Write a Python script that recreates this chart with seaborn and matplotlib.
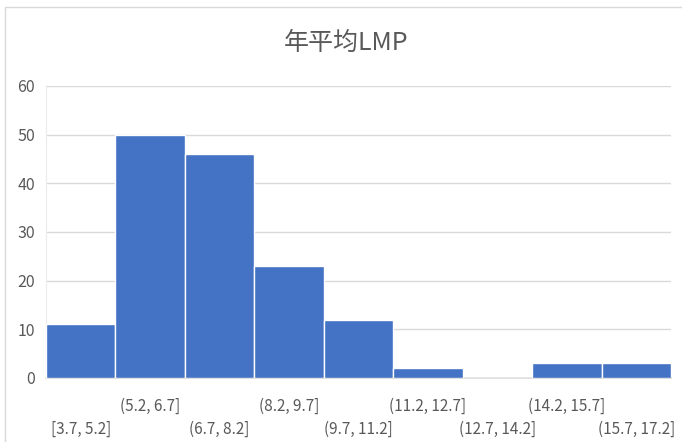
import matplotlib
matplotlib.use("Agg")
import matplotlib.pyplot as plt
import matplotlib.patches as mpatches
import seaborn as sns
import pandas as pd

# Histogram bins of the yearly average LMP and their counts
bin_labels = ["[3.7, 5.2]", "(5.2, 6.7]", "(6.7, 8.2]", "(8.2, 9.7]", "(9.7, 11.2]",
              "(11.2, 12.7]", "(12.7, 14.2]", "(14.2, 15.7]", "(15.7, 17.2]"]
counts = [11, 50, 46, 23, 12, 2, 0, 3, 3]
y_ticks = [0, 10, 20, 30, 40, 50, 60]
title = "年平均LMP"

sns.set_theme(style="white")
plt.rcParams["font.family"] = ["Noto Sans CJK SC", "DejaVu Sans"]

text_color = "#595959"
grid_color = "#d9d9d9"
bar_color = "#4472C4"
label_font = ["Liberation Sans Narrow", "Noto Sans CJK SC", "DejaVu Sans"]

df = pd.DataFrame({"bin": bin_labels, "count": counts})

fig = plt.figure(figsize=(6.82, 4.42), dpi=100)
ax = fig.add_axes([46 / 682, 1 - 378 / 442, (671 - 46) / 682, (378 - 86) / 442])

sns.barplot(data=df, x="bin", y="count", color=bar_color, saturation=1,
            width=1.0, edgecolor="white", linewidth=1.0, ax=ax, zorder=3)

ax.set_xlim(-0.5, len(bin_labels) - 0.5)
ax.set_ylim(0, 60)
ax.set_yticks(y_ticks)
ax.yaxis.grid(True, color=grid_color, linewidth=1.0, zorder=0)
ax.xaxis.grid(False)

for side in ["top", "right"]:
    ax.spines[side].set_visible(False)
ax.spines["bottom"].set_color(grid_color)
ax.spines["bottom"].set_linewidth(1.2)
ax.spines["bottom"].set_zorder(2)
ax.spines["left"].set_color("#ececec")
ax.spines["left"].set_linewidth(0.8)
ax.spines["left"].set_linestyle((0, (2, 1)))

ax.set_xlabel("")
ax.set_ylabel("")

# category labels staggered on two rows
ax.set_xticks(range(len(bin_labels)))
ax.set_xticklabels(bin_labels, fontsize=11, color=text_color, family=label_font)
ax.tick_params(axis="x", length=0)
for i, tick in enumerate(ax.xaxis.get_major_ticks()):
    tick.set_pad(30.5 if i % 2 == 0 else 14)
ax.tick_params(axis="y", length=0, pad=8, labelsize=11.5, labelcolor=text_color)
for lab in ax.get_yticklabels():
    lab.set_family(label_font)

fig.text(346 / 682, 1 - 43 / 442, title, ha="center", va="center",
         fontsize=18, color=text_color)

# chart area border
fig.patches.append(mpatches.Rectangle((5 / 682, -0.1), 1.2, 1 - 7 / 442 + 0.1,
                                      transform=fig.transFigure, fill=False,
                                      edgecolor=grid_color, linewidth=1.0))

fig.savefig("out.png", dpi=100)
